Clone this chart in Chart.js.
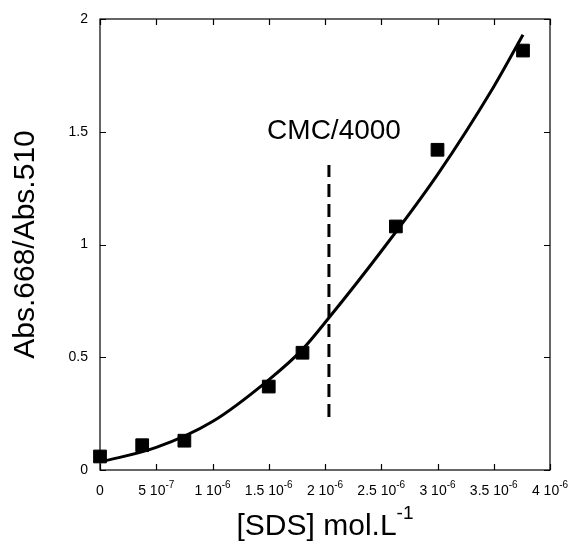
<!DOCTYPE html>
<html>
<head>
<meta charset="utf-8">
<script src="https://cdn.jsdelivr.net/npm/chart.js@4.4.0/dist/chart.umd.min.js"></script>
<style>
  html, body { margin: 0; padding: 0; background: #fff; }
  #wrap { width: 569px; height: 550px; }
</style>
</head>
<body>
<div id="wrap"><canvas id="chart"></canvas></div>
<script>
// Measured absorbance ratio vs SDS concentration
const sdsConc = [0, 0.375e-6, 0.75e-6, 1.5e-6, 1.8e-6, 2.63e-6, 3.0e-6, 3.76e-6];
const absRatio = [0.06, 0.11, 0.13, 0.37, 0.52, 1.08, 1.42, 1.86];

// Fitted curve, sampled along its length
const fitConc = [0, 0.5e-6, 1.0e-6, 1.5e-6, 1.8e-6, 2.035e-6, 2.5e-6, 3.0e-6, 3.5e-6, 3.76e-6];
const fitRatio = [0.035, 0.1, 0.215, 0.4, 0.535, 0.675, 0.97, 1.31, 1.70, 1.93];

// CMC/4000 marker line
const cmcConc = [2.035e-6, 2.035e-6];
const cmcRatio = [0.235, 1.353];
const cmcLabel = "CMC/4000";

// Axis ticks
const xTickValues = [0, 0.5e-6, 1e-6, 1.5e-6, 2e-6, 2.5e-6, 3e-6, 3.5e-6, 4e-6];
const xTickMantissa = ["0", "5", "1", "1.5", "2", "2.5", "3", "3.5", "4"];
const xTickExponent = ["", "-7", "-6", "-6", "-6", "-6", "-6", "-6", "-6"];
const yTickValues = [0, 0.5, 1, 1.5, 2];
const yTickLabels = ["0", "0.5", "1", "1.5", "2"];

const FONT = "'Liberation Sans', Arial, sans-serif";

function toPoints(xs, ys) {
  return xs.map((x, i) => ({ x: x, y: ys[i] }));
}

// Frame, inward ticks, tick labels, axis titles and the CMC label
const framePlugin = {
  id: "frame",
  afterDraw(chart) {
    const ctx = chart.ctx;
    const area = chart.chartArea;
    const xs = chart.scales.x;
    const ys = chart.scales.y;
    const tick = 6;

    ctx.save();
    ctx.strokeStyle = "#000";
    ctx.lineWidth = 1.2;
    ctx.strokeRect(area.left, area.top, area.right - area.left, area.bottom - area.top);

    ctx.beginPath();
    xTickValues.forEach(v => {
      const px = Math.round(xs.getPixelForValue(v)) + 0.5;
      ctx.moveTo(px, area.bottom);
      ctx.lineTo(px, area.bottom - tick);
      ctx.moveTo(px, area.top);
      ctx.lineTo(px, area.top + tick);
    });
    yTickValues.forEach(v => {
      const py = Math.round(ys.getPixelForValue(v)) + 0.5;
      ctx.moveTo(area.left, py);
      ctx.lineTo(area.left + tick, py);
      ctx.moveTo(area.right, py);
      ctx.lineTo(area.right - tick, py);
    });
    ctx.stroke();

    ctx.fillStyle = "#000";

    // y tick labels
    ctx.font = "14px " + FONT;
    ctx.textAlign = "right";
    ctx.textBaseline = "middle";
    yTickValues.forEach((v, i) => {
      ctx.fillText(yTickLabels[i], area.left - 12, ys.getPixelForValue(v));
    });

    // x tick labels: mantissa, "10" and a raised exponent
    const labelY = area.bottom + 21;
    xTickValues.forEach((v, i) => {
      const cx = xs.getPixelForValue(v);
      ctx.font = "14px " + FONT;
      const base = xTickExponent[i] ? xTickMantissa[i] + " 10" : xTickMantissa[i];
      const wBase = ctx.measureText(base).width;
      ctx.font = "10px " + FONT;
      const wExp = ctx.measureText(xTickExponent[i]).width;
      const start = cx - (wBase + wExp) / 2;
      ctx.textAlign = "left";
      ctx.textBaseline = "middle";
      ctx.font = "14px " + FONT;
      ctx.fillText(base, start, labelY);
      if (xTickExponent[i]) {
        ctx.font = "10px " + FONT;
        ctx.fillText(xTickExponent[i], start + wBase, labelY - 6);
      }
    });

    // x axis title with superscript
    const titleY = area.bottom + 57;
    const cx = (area.left + area.right) / 2;
    ctx.font = "30px " + FONT;
    const tMain = "[SDS] mol.L";
    const wMain = ctx.measureText(tMain).width;
    ctx.font = "19px " + FONT;
    const wSup = ctx.measureText("-1").width;
    let sx = cx - (wMain + wSup) / 2;
    ctx.font = "30px " + FONT;
    ctx.textAlign = "left";
    ctx.fillText(tMain, sx, titleY);
    ctx.font = "19px " + FONT;
    ctx.fillText("-1", sx + wMain, titleY - 13);

    // y axis title
    ctx.save();
    ctx.translate(area.left - 74, (area.top + area.bottom) / 2);
    ctx.rotate(-Math.PI / 2);
    ctx.font = "30px " + FONT;
    ctx.textAlign = "center";
    ctx.textBaseline = "middle";
    ctx.fillText("Abs.668/Abs.510", 0, 0);
    ctx.restore();

    // CMC label above the dashed line
    ctx.font = "28px " + FONT;
    ctx.textAlign = "center";
    ctx.textBaseline = "middle";
    ctx.fillText(cmcLabel, xs.getPixelForValue(2.08e-6), ys.getPixelForValue(1.5));

    ctx.restore();
  }
};

new Chart(document.getElementById("chart"), {
  type: "scatter",
  data: {
    datasets: [
      {
        label: "data",
        data: toPoints(sdsConc, absRatio),
        pointStyle: "rect",
        pointRadius: 9,
        backgroundColor: "#000",
        borderColor: "#000",
        borderWidth: 1,
        clip: false
      },
      {
        label: "fit",
        data: toPoints(fitConc, fitRatio),
        showLine: true,
        pointRadius: 0,
        borderColor: "#000",
        borderWidth: 3,
        cubicInterpolationMode: "monotone",
        fill: false
      },
      {
        label: "cmc",
        data: toPoints(cmcConc, cmcRatio),
        showLine: true,
        pointRadius: 0,
        borderColor: "#000",
        borderWidth: 3,
        borderDash: [13, 7]
      }
    ]
  },
  options: {
    responsive: true,
    maintainAspectRatio: false,
    animation: false,
    devicePixelRatio: 1,
    layout: { padding: { left: 100, right: 19, top: 19, bottom: 80 } },
    plugins: { legend: { display: false }, tooltip: { enabled: false } },
    scales: {
      x: { type: "linear", min: 0, max: 4e-6, display: false },
      y: { type: "linear", min: 0, max: 2, display: false }
    }
  },
  plugins: [framePlugin]
});
</script>
</body>
</html>
